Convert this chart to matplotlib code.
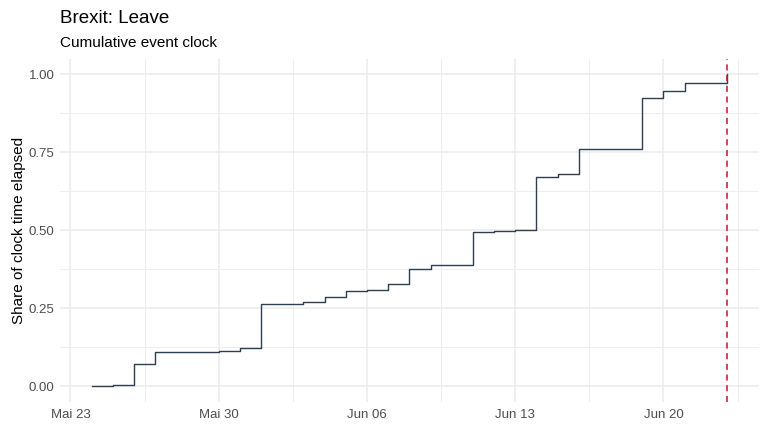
import matplotlib
matplotlib.use("Agg")
import matplotlib.pyplot as plt
import matplotlib.dates as mdates
import numpy as np
import datetime as dt

plt.rcParams['font.family'] = ['Liberation Sans', 'DejaVu Sans']

# Data
event_dates = ["2016-05-24", "2016-05-25", "2016-05-26", "2016-05-27", "2016-05-28",
               "2016-05-30", "2016-05-31", "2016-06-01", "2016-06-02", "2016-06-03",
               "2016-06-04", "2016-06-05", "2016-06-06", "2016-06-07", "2016-06-08",
               "2016-06-09", "2016-06-11", "2016-06-12", "2016-06-13", "2016-06-14",
               "2016-06-15", "2016-06-16", "2016-06-19", "2016-06-20", "2016-06-21",
               "2016-06-23"]
share_elapsed = [0.000, 0.003, 0.070, 0.108, 0.111,
                 0.114, 0.124, 0.262, 0.265, 0.269,
                 0.287, 0.304, 0.308, 0.327, 0.375,
                 0.387, 0.496, 0.499, 0.502, 0.670,
                 0.682, 0.759, 0.925, 0.948, 0.973,
                 1.000]
vline_date = "2016-06-23"
x_tick_dates = ["2016-05-23", "2016-05-30", "2016-06-06", "2016-06-13", "2016-06-20"]
x_tick_labels = ["Mai 23", "Mai 30", "Jun 06", "Jun 13", "Jun 20"]
y_ticks = [0.00, 0.25, 0.50, 0.75, 1.00]
y_tick_labels = ["0.00", "0.25", "0.50", "0.75", "1.00"]

to_dt = lambda s: dt.datetime.strptime(s, "%Y-%m-%d")
xd = [to_dt(s) for s in event_dates]
xn = mdates.date2num(xd)

fig = plt.figure(figsize=(7.68, 4.32), dpi=100)
ax = fig.add_axes([0.078, 0.070, 0.910, 0.794])

ax.step(xn, share_elapsed, where="post", color="#2C3E50", lw=1.0, zorder=3)
vx = mdates.date2num(to_dt(vline_date))
ax.axvline(vx, color="#C4161C", lw=1.1, ls=(0, (4, 3)), zorder=4)

xt = mdates.date2num([to_dt(s) for s in x_tick_dates])
ax.set_xticks(xt)
ax.set_xticklabels(x_tick_labels)
ax.set_xticks(np.append((xt[:-1] + xt[1:]) / 2.0, xt[-1] + 3.5), minor=True)
ax.set_yticks(y_ticks)
ax.set_yticklabels(y_tick_labels)
ax.set_yticks([-0.125 + 0.25 * i for i in range(1, 5)] + [1.125], minor=True)

span = xn[-1] - xn[0]
ax.set_xlim(xn[0] - 0.05 * span, xn[-1] + 0.05 * span)
ax.set_ylim(-0.05, 1.05)

for s in ax.spines.values():
    s.set_visible(False)
ax.grid(which="major", color="#EBEBEB", lw=1.1)
ax.grid(which="minor", color="#EEEEEE", lw=0.8)
ax.set_axisbelow(True)
ax.tick_params(which="both", length=0)
ax.tick_params(axis="x", labelsize=9.5, labelcolor="#4D4D4D", pad=5)
ax.tick_params(axis="y", labelsize=9.5, labelcolor="#4D4D4D", pad=4)

ax.set_ylabel("Share of clock time elapsed", fontsize=11, color="black", labelpad=2)

fig.text(0.078, 0.958, "Brexit: Leave", fontsize=13.5, color="black", va="center", ha="left")
fig.text(0.078, 0.900, "Cumulative event clock", fontsize=11, color="black", va="center", ha="left")

fig.savefig("out.png", dpi=100)
